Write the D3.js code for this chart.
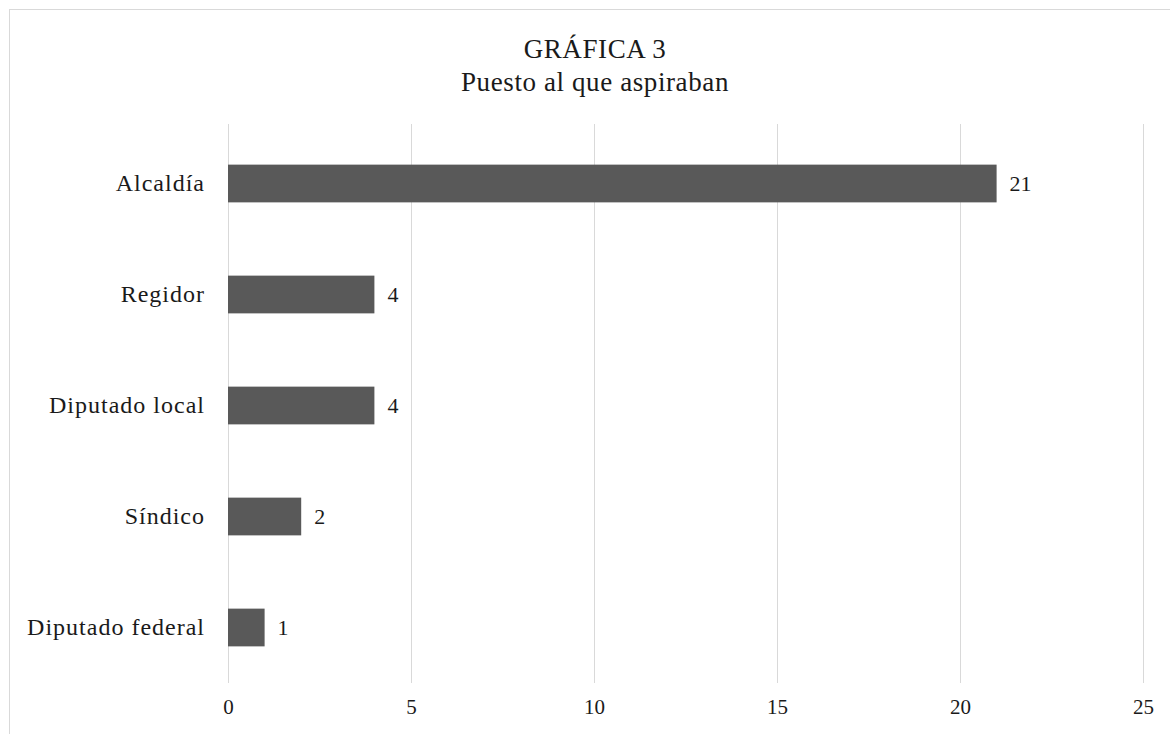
<!DOCTYPE html>
<html>
<head>
<meta charset="utf-8">
<script src="https://cdn.jsdelivr.net/npm/d3@7"></script>
<style>
  html, body { margin: 0; padding: 0; background: #ffffff; }
  svg { display: block; }
  text { font-family: "Liberation Serif", "Times New Roman", serif; fill: #1a1a1a; }
</style>
</head>
<body>
<svg id="chart" width="1170" height="734"></svg>
<script>
const categories = ["Alcaldía", "Regidor", "Diputado local", "Síndico", "Diputado federal"];
const values = [21, 4, 4, 2, 1];
const tickValues = [0, 5, 10, 15, 20, 25];
const titleLines = ["GRÁFICA 3", "Puesto al que aspiraban"];

const svg = d3.select("#chart");
const W = 1170, H = 734;
const margin = { left: 228, right: 27, top: 128, bottom: 51 };
const serif = "'Liberation Serif', 'Times New Roman', serif";

// outer frame
svg.append("rect")
  .attr("x", 9.5).attr("y", 9.5)
  .attr("width", W + 20).attr("height", H + 20)
  .attr("fill", "#ffffff").attr("stroke", "#d9d9d9").attr("stroke-width", 1);

const x = d3.scaleLinear().domain([0, 25]).range([margin.left, W - margin.right]);
const y = d3.scaleBand().domain(categories)
  .range([margin.top, H - margin.bottom]).paddingInner(0.66).paddingOuter(0.33);

// gridlines
svg.append("g").selectAll("line").data(tickValues).join("line")
  .attr("x1", d => Math.round(x(d)) + 0.5).attr("x2", d => Math.round(x(d)) + 0.5)
  .attr("y1", margin.top - 4).attr("y2", H - margin.bottom)
  .attr("stroke", "#d9d9d9").attr("stroke-width", 1);

// x axis labels
const xAxis = d3.axisBottom(x).tickValues(tickValues).tickSize(0).tickPadding(16);
const gx = svg.append("g").attr("transform", `translate(0,${H - margin.bottom})`).call(xAxis);
gx.select(".domain").remove();
gx.selectAll("text").style("font-size", "21px").style("font-family", serif).attr("fill", "#404040");

// y axis labels
const yAxis = d3.axisLeft(y).tickSize(0).tickPadding(23);
const gy = svg.append("g").attr("transform", `translate(${margin.left},0)`).call(yAxis);
gy.select(".domain").remove();
gy.selectAll("text").style("font-size", "24px").style("font-family", serif)
  .style("letter-spacing", "1px").attr("fill", "#1a1a1a");

// bars
svg.append("g").selectAll("rect").data(values).join("rect")
  .attr("x", x(0))
  .attr("y", (d, i) => y(categories[i]))
  .attr("width", d => x(d) - x(0))
  .attr("height", y.bandwidth())
  .attr("fill", "#595959");

// data labels
svg.append("g").selectAll("text").data(values).join("text")
  .attr("x", d => x(d) + 13)
  .attr("y", (d, i) => y(categories[i]) + y.bandwidth() / 2)
  .attr("dy", "0.34em")
  .style("font-size", "22px")
  .text(d => d);

// title
svg.append("g").selectAll("text").data(titleLines).join("text")
  .attr("x", 595).attr("y", (d, i) => 58 + i * 33)
  .attr("text-anchor", "middle")
  .style("font-size", "27px")
  .style("letter-spacing", "0.6px")
  .text(d => d);
</script>
</body>
</html>
